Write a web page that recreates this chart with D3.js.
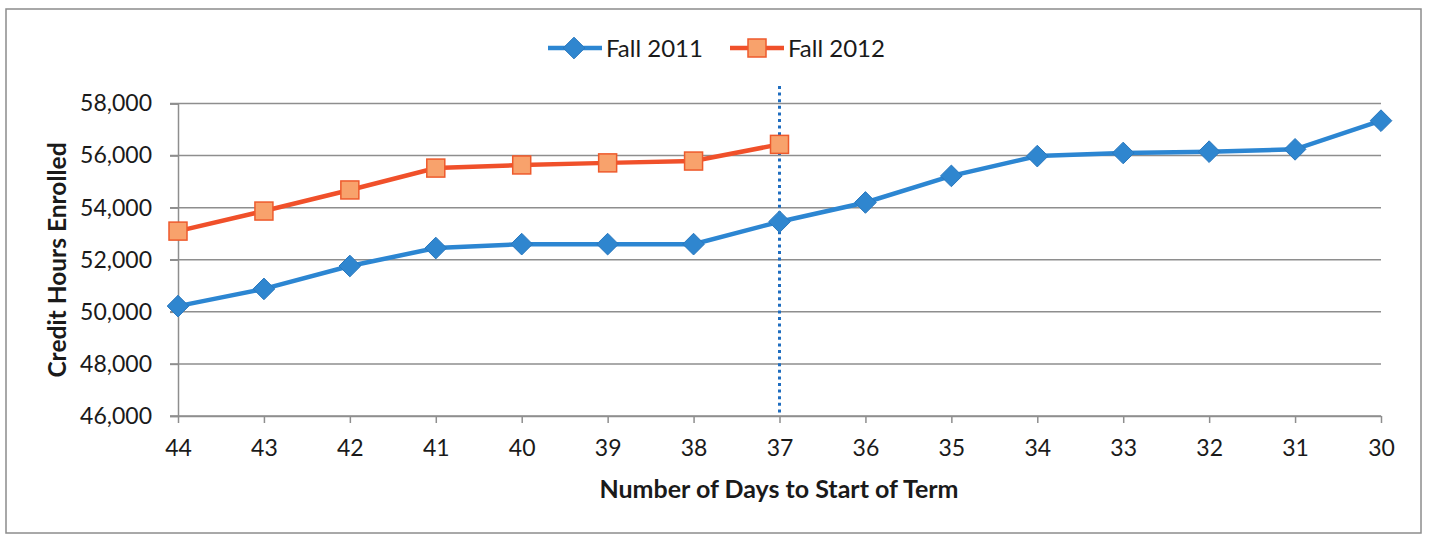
<!DOCTYPE html>
<html>
<head>
<meta charset="utf-8">
<script src="https://cdn.jsdelivr.net/npm/d3@7"></script>
<style>
  body { margin: 0; background: #fff; }
  text { font-family: Lato, "Open Sans", sans-serif; fill: #1a1a1a; }
</style>
</head>
<body>
<script>
// days to start of term (x axis, read right to left)
var days = [44, 43, 42, 41, 40, 39, 38, 37, 36, 35, 34, 33, 32, 31, 30]
var fall2011 = [50220, 50880, 51760, 52450, 52600, 52600, 52600, 53460, 54200, 55220, 55980, 56100, 56150, 56240, 57340]
var fall2012 = [53100, 53870, 54680, 55520, 55640, 55720, 55790, 56430]
var yTicks = [46000, 48000, 50000, 52000, 54000, 56000, 58000]
var todayMark = 37

const width = 1429, height = 536

var svg = d3.select("body").append("svg")
  .attr("width", width)
  .attr("height", height)

// outer frame
svg.append("rect")
  .attr("x", 6).attr("y", 9)
  .attr("width", 1415).attr("height", 524)
  .attr("fill", "none")
  .attr("stroke", "#8c8c8c")
  .attr("stroke-width", 1.5)

var x = d3.scalePoint()
  .domain(days)
  .range([178, 1381])

var y = d3.scaleLinear()
  .domain([46000, 58000])
  .range([416, 103.5])

// gridlines
svg.append("g")
  .selectAll("line")
  .data(yTicks)
  .enter()
  .append("line")
  .attr("x1", 170)
  .attr("x2", 1381)
  .attr("y1", function(d) { return y(d) })
  .attr("y2", function(d) { return y(d) })
  .attr("stroke", "#8e8e8e")
  .attr("stroke-width", 1.5)

// y axis
var yAxis = svg.append("g")
  .attr("transform", "translate(178,0)")
  .call(d3.axisLeft(y).tickValues(yTicks).tickSize(8).tickPadding(18).tickFormat(d3.format(",")))
yAxis.select(".domain").attr("stroke", "#8e8e8e").attr("stroke-width", 1.5)
yAxis.selectAll(".tick line").attr("stroke", "#8e8e8e").attr("stroke-width", 1.5)
yAxis.selectAll("text").style("font-size", "23px").attr("fill", "#1a1a1a")

// x axis
var xAxis = svg.append("g")
  .attr("transform", "translate(0,416)")
  .call(d3.axisBottom(x).tickSize(7).tickPadding(17).tickSizeOuter(0))
xAxis.select(".domain").attr("stroke", "#8e8e8e").attr("stroke-width", 1.5)
xAxis.selectAll(".tick line").attr("stroke", "#8e8e8e").attr("stroke-width", 1.5)
xAxis.selectAll("text").style("font-size", "23px").attr("fill", "#1a1a1a")

// dotted marker line at current day
svg.append("line")
  .attr("x1", x(todayMark)).attr("x2", x(todayMark))
  .attr("y1", 86).attr("y2", 416)
  .attr("stroke", "#1f6dbf")
  .attr("stroke-width", 3)
  .attr("stroke-dasharray", "3,3.6")

var line = d3.line()
  .x(function(d) { return x(d.day) })
  .y(function(d) { return y(d.value) })

var s2011 = days.map(function(d, i) { return {day: d, value: fall2011[i]} })
var s2012 = fall2012.map(function(v, i) { return {day: days[i], value: v} })

svg.append("path")
  .datum(s2011)
  .attr("d", line)
  .attr("fill", "none")
  .attr("stroke", "#2c86d2")
  .attr("stroke-width", 4.5)

svg.append("path")
  .datum(s2012)
  .attr("d", line)
  .attr("fill", "none")
  .attr("stroke", "#f0502a")
  .attr("stroke-width", 4.5)

var diamond = d3.symbol().type(d3.symbolDiamond2).size(300)

svg.append("g")
  .selectAll("path")
  .data(s2011)
  .enter()
  .append("path")
  .attr("d", diamond)
  .attr("transform", function(d) { return "translate(" + x(d.day) + "," + y(d.value) + ")" })
  .attr("fill", "#2f86cf")
  .attr("stroke", "#2a78be")
  .attr("stroke-width", 1)

svg.append("g")
  .selectAll("rect")
  .data(s2012)
  .enter()
  .append("rect")
  .attr("x", function(d) { return x(d.day) - 9 })
  .attr("y", function(d) { return y(d.value) - 9 })
  .attr("width", 18).attr("height", 18)
  .attr("fill", "#f8a26c")
  .attr("stroke", "#ee5a2c")
  .attr("stroke-width", 1.5)

// legend
var legend = svg.append("g")
legend.append("line")
  .attr("x1", 548).attr("x2", 602).attr("y1", 48).attr("y2", 48)
  .attr("stroke", "#2c86d2").attr("stroke-width", 4.5)
legend.append("path")
  .attr("d", diamond)
  .attr("transform", "translate(574,48)")
  .attr("fill", "#2f86cf").attr("stroke", "#2a78be")
legend.append("text")
  .attr("x", 606).attr("y", 57)
  .style("font-size", "24px")
  .text("Fall 2011")
legend.append("line")
  .attr("x1", 730).attr("x2", 784).attr("y1", 48).attr("y2", 48)
  .attr("stroke", "#f0502a").attr("stroke-width", 4.5)
legend.append("rect")
  .attr("x", 748).attr("y", 39).attr("width", 18).attr("height", 18)
  .attr("fill", "#f8a26c").attr("stroke", "#ee5a2c").attr("stroke-width", 1.5)
legend.append("text")
  .attr("x", 788).attr("y", 57)
  .style("font-size", "24px")
  .text("Fall 2012")

// axis titles
svg.append("text")
  .attr("transform", "translate(66,260) rotate(-90)")
  .attr("text-anchor", "middle")
  .style("font-size", "24.5px")
  .style("font-weight", "bold")
  .text("Credit Hours Enrolled")

svg.append("text")
  .attr("x", 779).attr("y", 498)
  .attr("text-anchor", "middle")
  .style("font-size", "25px")
  .style("font-weight", "bold")
  .text("Number of Days to Start of Term")
</script>
</body>
</html>
